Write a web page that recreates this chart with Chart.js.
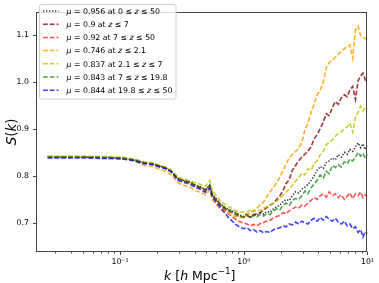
<!DOCTYPE html>
<html><head><meta charset="utf-8">
<script src="https://cdn.jsdelivr.net/npm/chart.js@4.4.1/dist/chart.umd.min.js"></script>
<style>html,body{margin:0;padding:0;background:#fff;overflow:hidden}</style>
</head><body>
<canvas id="c" width="379" height="283"></canvas>
<script>
// ---- data ----
const kValues = [0.026,0.052,0.078,0.104,0.13,0.156,0.182,0.208,0.234,0.26,0.295,0.33,0.37,0.41,0.45,0.49,0.53,0.56,0.6,0.65,0.7,0.75,0.8,0.86,0.92,1.0,1.06,1.13,1.2,1.28,1.36,1.45,1.53,1.63,1.74,1.84,1.96,2.07,2.2,2.33,2.47,2.62,2.78,2.95,3.12,3.3,3.5,3.7,3.92,4.15,4.4,4.65,4.9,5.2,5.5,5.8,6.15,6.5,6.85,7.2,7.6,8.0,8.4,8.8,9.2,9.6,10.0];

const sAllZ = [0.840,0.840,0.839,0.838,0.834,0.828,0.826,0.821,0.817,0.810,0.795,0.790,0.787,0.780,0.776,0.771,0.780,0.760,0.751,0.740,0.734,0.729,0.726,0.722,0.717,0.714,0.720,0.713,0.718,0.716,0.721,0.719,0.724,0.723,0.730,0.734,0.738,0.745,0.750,0.748,0.758,0.766,0.764,0.772,0.776,0.782,0.790,0.800,0.812,0.820,0.816,0.828,0.832,0.838,0.834,0.845,0.840,0.850,0.846,0.856,0.852,0.862,0.870,0.860,0.868,0.856,0.864];
const sZle7 = [0.840,0.840,0.839,0.838,0.834,0.828,0.826,0.821,0.817,0.810,0.794,0.789,0.786,0.779,0.775,0.770,0.779,0.758,0.749,0.738,0.731,0.726,0.722,0.718,0.714,0.712,0.716,0.712,0.718,0.720,0.722,0.728,0.732,0.738,0.742,0.750,0.758,0.768,0.784,0.792,0.812,0.822,0.832,0.840,0.846,0.852,0.862,0.878,0.888,0.900,0.915,0.932,0.928,0.945,0.958,0.952,0.966,0.972,0.968,0.982,0.990,0.962,1.002,1.012,1.018,1.004,1.010];
const sZ7to50 = [0.840,0.840,0.839,0.837,0.833,0.827,0.825,0.820,0.816,0.809,0.794,0.789,0.785,0.778,0.774,0.768,0.777,0.756,0.747,0.736,0.728,0.720,0.714,0.708,0.703,0.700,0.698,0.694,0.697,0.694,0.699,0.701,0.704,0.706,0.711,0.714,0.716,0.722,0.720,0.726,0.730,0.734,0.732,0.738,0.736,0.742,0.748,0.754,0.750,0.758,0.762,0.755,0.766,0.758,0.762,0.754,0.760,0.750,0.757,0.764,0.752,0.762,0.758,0.766,0.754,0.760,0.757];
const sZle2 = [0.841,0.840,0.839,0.837,0.832,0.822,0.820,0.814,0.810,0.802,0.785,0.780,0.776,0.768,0.765,0.760,0.770,0.748,0.740,0.728,0.725,0.722,0.716,0.714,0.712,0.712,0.716,0.722,0.726,0.732,0.738,0.745,0.755,0.766,0.776,0.785,0.798,0.810,0.826,0.838,0.846,0.852,0.858,0.872,0.898,0.912,0.935,0.952,0.972,0.982,1.000,1.030,1.040,1.046,1.052,1.058,1.064,1.070,1.074,1.078,1.050,1.110,1.118,1.098,1.094,1.092,1.086];
const sZ2to7 = [0.842,0.842,0.841,0.840,0.836,0.830,0.828,0.823,0.819,0.812,0.797,0.793,0.790,0.785,0.782,0.778,0.790,0.768,0.758,0.746,0.740,0.735,0.731,0.726,0.722,0.724,0.722,0.728,0.724,0.728,0.726,0.732,0.734,0.738,0.742,0.746,0.752,0.758,0.766,0.772,0.780,0.789,0.796,0.806,0.802,0.815,0.812,0.826,0.832,0.845,0.852,0.866,0.872,0.876,0.884,0.890,0.894,0.900,0.904,0.912,0.893,0.925,0.935,0.948,0.938,0.946,0.942];
const sZ7to20 = [0.840,0.840,0.839,0.838,0.834,0.828,0.826,0.821,0.817,0.810,0.793,0.789,0.786,0.779,0.776,0.770,0.780,0.759,0.750,0.739,0.733,0.728,0.725,0.722,0.716,0.712,0.718,0.711,0.716,0.713,0.718,0.715,0.720,0.718,0.726,0.730,0.728,0.738,0.742,0.737,0.748,0.752,0.750,0.758,0.768,0.762,0.775,0.783,0.790,0.802,0.796,0.810,0.805,0.822,0.818,0.824,0.819,0.830,0.826,0.836,0.832,0.840,0.850,0.842,0.848,0.838,0.846];
const sZ20to50 = [0.838,0.838,0.837,0.836,0.832,0.826,0.824,0.819,0.815,0.808,0.790,0.786,0.782,0.775,0.771,0.765,0.774,0.753,0.744,0.732,0.722,0.712,0.705,0.697,0.692,0.688,0.690,0.684,0.686,0.681,0.684,0.679,0.682,0.680,0.686,0.688,0.690,0.694,0.692,0.698,0.696,0.702,0.698,0.704,0.700,0.698,0.706,0.710,0.704,0.712,0.706,0.714,0.708,0.704,0.710,0.702,0.698,0.704,0.694,0.698,0.688,0.692,0.680,0.686,0.670,0.682,0.678];

const muValues = ['0.956','0.9','0.92','0.746','0.837','0.843','0.844'];
const zRanges = ['0 ≤ z ≤ 50','z ≤ 7','7 ≤ z ≤ 50','z ≤ 2.1','2.1 ≤ z ≤ 7','7 ≤ z ≤ 19.8','19.8 ≤ z ≤ 50'];
const seriesValues = [sAllZ, sZle7, sZ7to50, sZle2, sZ2to7, sZ7to20, sZ20to50];

const xTickValues = [0.1, 1, 10];
const xTickLabels = ['10⁻¹', '10⁰', '10¹'];
const yTickValues = [0.7, 0.8, 0.9, 1.0, 1.1];
const yTickLabels = ['0.7', '0.8', '0.9', '1.0', '1.1'];

// ---- styles ----
const colors = ['rgba(0,0,0,0.8)','rgba(139,0,0,0.78)','rgba(255,0,0,0.68)','rgba(255,165,0,0.85)','rgba(191,191,0,0.8)','rgba(0,128,0,0.7)','rgba(0,0,255,0.75)'];
const dashes = [[1.3,1.7],[4.8,2],[4.8,2],[4.8,2],[4.8,2],[4.8,2],[4.8,2]];
const FONT = "'DejaVu Sans', sans-serif";

const labels = muValues.map((m,i)=>'μ = ' + m + ' at ' + zRanges[i]);

function drawRich(ctx, segs, x, y, size, align) {
  const fontOf = s => (s.it ? 'italic ' : '') + (s.sup ? size*0.7 : size) + 'px ' + FONT;
  let w = 0;
  segs.forEach(s => { ctx.font = fontOf(s); w += ctx.measureText(s.t).width; });
  let cx = align === 'center' ? x - w/2 : x;
  ctx.textBaseline = 'alphabetic';
  ctx.textAlign = 'left';
  segs.forEach(s => {
    ctx.font = fontOf(s);
    ctx.fillText(s.t, cx, s.sup ? y - size*0.42 : y);
    cx += ctx.measureText(s.t).width;
  });
}
function labelSegs(str) {
  const segs = [];
  for (const ch of str) {
    const it = (ch === 'μ' || ch === 'z');
    const last = segs[segs.length-1];
    if (last && !!last.it === it) last.t += ch; else segs.push({t: ch, it: it});
  }
  return segs;
}

const framePlugin = {
  id: 'frame',
  afterDraw(chart) {
    const ctx = chart.ctx, a = chart.chartArea, xs = chart.scales.x, ys = chart.scales.y;
    ctx.save();
    ctx.strokeStyle = '#333'; ctx.lineWidth = 0.9;
    ctx.strokeRect(Math.round(a.left)+0.5, Math.round(a.top)+0.5, Math.round(a.right-a.left)-1, Math.round(a.bottom-a.top)-1);
    ctx.beginPath();
    const b = Math.round(a.bottom) - 0.5;
    for (let e = -2; e <= 1; e++) {
      for (let m = 1; m <= 9; m++) {
        const v = m * Math.pow(10, e);
        if (v < xs.min * 0.999 || v > xs.max * 1.001) continue;
        const px = Math.round(xs.getPixelForValue(v)) + 0.5;
        ctx.moveTo(px, b); ctx.lineTo(px, b + (m === 1 ? 3.5 : 2));
      }
    }
    const l = Math.round(a.left) + 0.5;
    yTickValues.forEach(v => { const py = Math.round(ys.getPixelForValue(v)) + 0.5; ctx.moveTo(l, py); ctx.lineTo(l - 3.5, py); });
    ctx.stroke();

    // axis titles
    ctx.fillStyle = '#000';
    drawRich(ctx, [{t:'k',it:1},{t:' ['},{t:'h',it:1},{t:' Mpc'},{t:'−1',sup:1},{t:']'}], (a.left+a.right)/2 - 2, 279.5, 12.5, 'center');
    ctx.save();
    ctx.translate(16, (a.top+a.bottom)/2);
    ctx.rotate(-Math.PI/2);
    drawRich(ctx, [{t:'S',it:1},{t:'('},{t:'k',it:1},{t:')'}], 0, 0, 13.5, 'center');
    ctx.restore();

    // legend
    const lx = 39.5, ly = 4.5, lw = 136.5, lh = 94.5;
    ctx.fillStyle = 'rgba(255,255,255,0.8)';
    ctx.strokeStyle = '#d0d0d0'; ctx.lineWidth = 1;
    ctx.beginPath();
    if (ctx.roundRect) ctx.roundRect(lx, ly, lw, lh, 2); else ctx.rect(lx, ly, lw, lh);
    ctx.fill(); ctx.stroke();
    labels.forEach((lab, i) => {
      const cy = 11 + i * 13.2;
      ctx.strokeStyle = colors[i]; ctx.lineWidth = 1.5;
      ctx.setLineDash(dashes[i]);
      ctx.beginPath(); ctx.moveTo(43, cy); ctx.lineTo(58.5, cy); ctx.stroke();
      ctx.setLineDash([]);
      ctx.fillStyle = '#000';
      drawRich(ctx, labelSegs(lab), 66.5, cy + 2.8, 7.8, 'left');
    });
    ctx.restore();
  }
};

new Chart(document.getElementById('c'), {
  type: 'line',
  data: {
    datasets: seriesValues.map((s, i) => ({
      label: labels[i],
      data: kValues.map((k, j) => ({x: k, y: s[j]})),
      borderColor: colors[i],
      borderDash: dashes[i],
      borderWidth: 1.6,
      pointRadius: 0,
      fill: false,
      tension: 0,
      order: 7 - i
    }))
  },
  options: {
    responsive: false, animation: false, devicePixelRatio: 1,
    layout: {padding: {top: 0, right: 6, left: 0, bottom: 0}},
    plugins: {legend: {display: false}, tooltip: {enabled: false}},
    scales: {
      x: {
        type: 'logarithmic', min: 0.02094, max: 10,
        afterFit(s) { s.height = 31; },
        grid: {display: false, drawTicks: false}, border: {display: false},
        ticks: {
          autoSkip: false, maxRotation: 0, minRotation: 0, padding: 5,
          color: '#000', font: {family: FONT, size: 7.8},
          callback(v) {
            const idx = xTickValues.findIndex(t => Math.abs(v - t) / t < 1e-6);
            return idx >= 0 ? xTickLabels[idx] : '';
          }
        }
      },
      y: {
        min: 0.6385, max: 1.1486,
        afterFit(s) { s.width = 36; },
        grid: {display: false, drawTicks: false}, border: {display: false},
        ticks: {
          stepSize: 0.1, includeBounds: false, padding: 7,
          color: '#000', font: {family: FONT, size: 7.8},
          callback(v) {
            const idx = yTickValues.findIndex(t => Math.abs(v - t) < 1e-6);
            return idx >= 0 ? yTickLabels[idx] : '';
          }
        }
      }
    }
  },
  plugins: [framePlugin]
});
</script>
</body></html>
